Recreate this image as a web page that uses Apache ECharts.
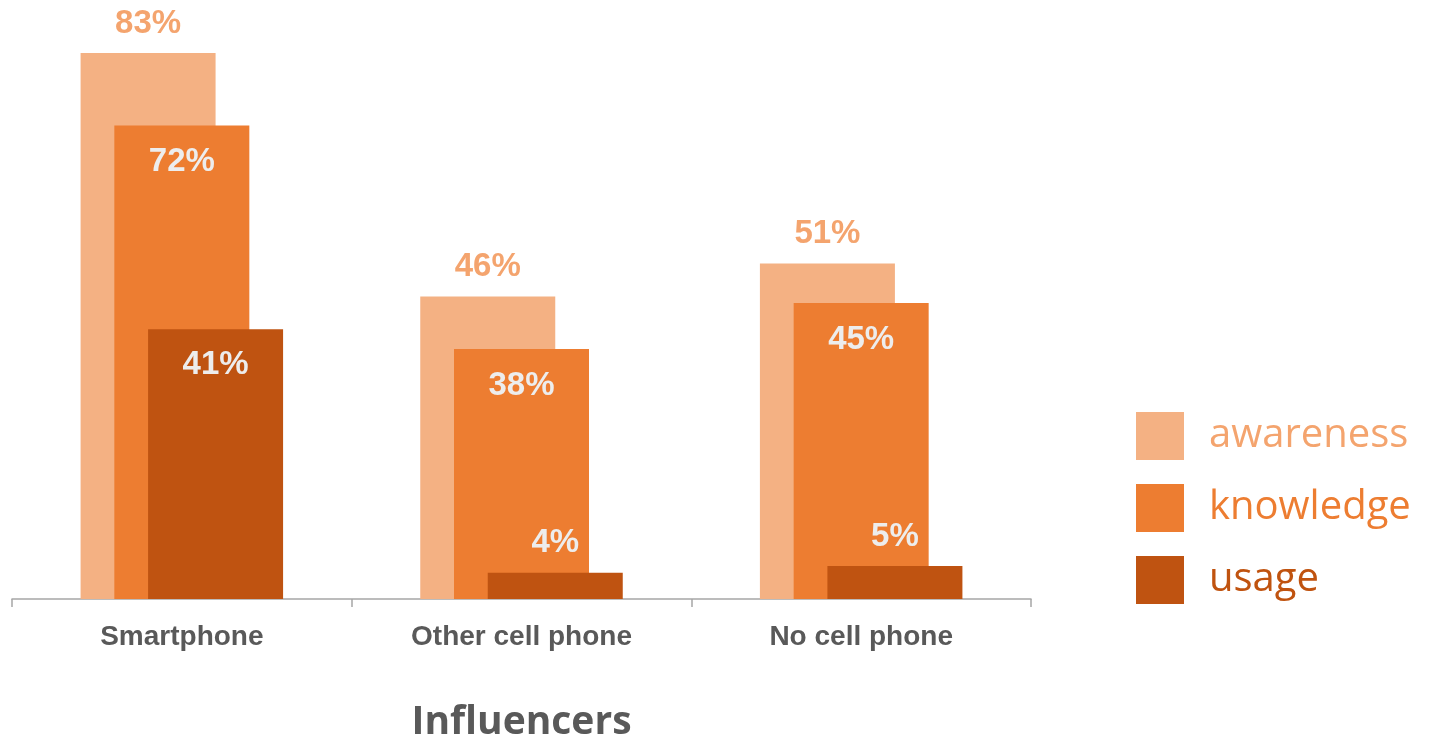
<!DOCTYPE html>
<html>
<head>
<meta charset="utf-8">
<script src="https://cdn.jsdelivr.net/npm/echarts@6/dist/echarts.min.js"></script>
<style>
  html, body { margin: 0; padding: 0; background: #fff; }
  #main { width: 1435px; height: 736px; }
</style>
</head>
<body>
<div id="main"></div>
<script>
// 数据
var categories = ['Smartphone', 'Other cell phone', 'No cell phone'];
var awareness = [83, 46, 51];
var knowledge = [72, 38, 45];
var usage = [41, 4, 5];

var colors = ['#F4B183', '#ED7D31', '#BF5311'];
var legendColors = ['#F4A46E', '#ED7D31', '#C0530F'];

var labelFont = {
  fontFamily: 'Liberation Sans, Arial, sans-serif',
  fontWeight: 'bold',
  fontSize: 33
};

// 小数值放在柱子上方，大数值放在柱子内部
function usageData() {
  return usage.map(function (v) {
    if (v < 10) {
      return { value: v, label: { position: 'top', distance: 13 } };
    }
    return v;
  });
}

var chart = echarts.init(document.getElementById('main'));

var option = {
  animation: false,
  grid: {
    left: 12,
    right: 404,
    top: 7,
    bottom: 137,
    outerBoundsMode: 'none'
  },
  legend: {
    orient: 'vertical',
    left: 1136,
    top: 412,
    padding: 0,
    itemWidth: 48,
    itemHeight: 48,
    itemGap: 24,
    icon: 'rect',
    textStyle: {
      fontFamily: 'Open Sans, sans-serif',
      fontSize: 40,
      padding: [10, 0, 0, 20]
    },
    data: [
      { name: 'awareness', textStyle: { color: legendColors[0] } },
      { name: 'knowledge', textStyle: { color: legendColors[1] } },
      { name: 'usage', textStyle: { color: legendColors[2] } }
    ]
  },
  xAxis: {
    type: 'category',
    data: categories,
    name: 'Influencers',
    nameLocation: 'middle',
    nameGap: 104,
    nameTextStyle: {
      fontFamily: 'Open Sans, sans-serif',
      fontWeight: 'bold',
      fontSize: 39,
      color: '#595959'
    },
    axisLine: { lineStyle: { color: '#A6A6A6', width: 1.5 } },
    axisTick: { show: true, length: 8, lineStyle: { color: '#A6A6A6', width: 1.5 } },
    axisLabel: {
      margin: 24,
      fontFamily: 'Liberation Sans, Arial, sans-serif',
      fontWeight: 'bold',
      fontSize: 28,
      color: '#595959'
    }
  },
  yAxis: {
    type: 'value',
    min: 0,
    max: 90,
    show: false,
    splitLine: { show: false }
  },
  series: [{
    name: 'awareness',
    type: 'bar',
    barWidth: 135,
    barGap: '-75%',
    itemStyle: { color: colors[0] },
    label: Object.assign({
      show: true,
      position: 'top',
      distance: 13,
      color: legendColors[0],
      formatter: '{c}%'
    }, labelFont),
    data: awareness
  }, {
    name: 'knowledge',
    type: 'bar',
    barWidth: 135,
    barGap: '-75%',
    itemStyle: { color: colors[1] },
    label: Object.assign({
      show: true,
      position: 'insideTop',
      distance: 20,
      color: '#EDEDED',
      formatter: '{c}%'
    }, labelFont),
    data: knowledge
  }, {
    name: 'usage',
    type: 'bar',
    barWidth: 135,
    barGap: '-75%',
    itemStyle: { color: colors[2] },
    label: Object.assign({
      show: true,
      position: 'insideTop',
      distance: 19,
      color: '#EDEDED',
      formatter: '{c}%'
    }, labelFont),
    data: usageData()
  }]
};

chart.setOption(option);
</script>
</body>
</html>
